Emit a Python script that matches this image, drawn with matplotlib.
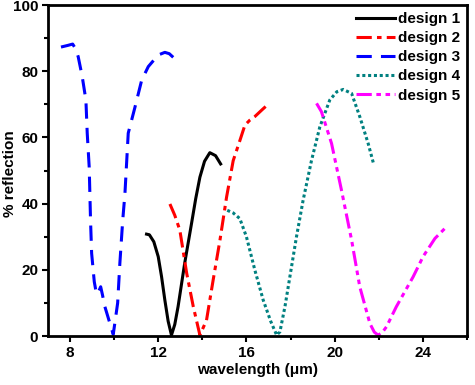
import matplotlib.pyplot as plt
from matplotlib.ticker import MultipleLocator

plt.rcParams['font.family'] = ['Liberation Sans', 'DejaVu Sans']
plt.rcParams['font.weight'] = 'bold'

# design 1
x1 = [11.47, 11.6, 11.8, 12.0, 12.15, 12.3, 12.45, 12.6, 12.75, 12.9, 13.2, 13.51, 13.7, 13.89, 14.1, 14.34, 14.6, 14.83]
y1 = [30.8, 30.6, 28.5, 24.0, 18.0, 10.9, 4.5, 0.3, 3.5, 8.9, 22.0, 34.0, 41.5, 48.0, 52.8, 55.4, 54.5, 52.0]

# design 2
x2 = [12.53, 12.75, 12.98, 13.29, 13.59, 13.89, 14.19, 14.49, 14.8, 15.1, 15.4, 15.7, 15.93, 16.15, 16.38, 16.7, 17.03]
y2 = [39.9, 36.5, 32.0, 19.0, 8.9, 0.3, 4.8, 16.9, 29.0, 42.0, 53.0, 59.0, 63.7, 65.2, 66.3, 68.3, 70.3]

# design 3
x3 = [7.59, 7.9, 8.12, 8.25, 8.37, 8.55, 8.72, 8.78, 8.87, 8.93, 8.98, 9.1, 9.2, 9.3, 9.39, 9.47, 9.58, 9.96,
      10.16, 10.26, 10.39, 10.49, 10.64, 10.94, 11.25, 11.55, 12.0, 12.3, 12.5, 12.68]
y3 = [87.3, 87.8, 88.2, 86.8, 84.4, 78.5, 71.3, 61.3, 51.0, 35.0, 25.0, 16.4, 12.7, 13.5, 14.9, 12.5, 8.9, 0.5,
      10.0, 22.0, 35.0, 43.0, 61.3, 69.0, 77.3, 81.4, 84.9, 85.7, 85.3, 84.2]

# design 4
x4 = [15.13, 15.4, 15.7, 16.0, 16.38, 16.76, 17.1, 17.37, 17.52, 17.75, 17.97, 18.27, 18.57, 18.95,
      19.33, 19.78, 20.1, 20.39, 20.77, 21.14, 21.52, 21.78]
y4 = [38.0, 37.2, 35.5, 30.0, 20.0, 10.9, 4.5, 0.3, 1.3, 9.0, 17.9, 30.0, 41.0, 53.0,
      63.2, 71.3, 73.8, 74.5, 73.3, 66.3, 58.2, 51.7]

# design 5
x5 = [19.18, 19.4, 19.86, 20.31, 20.77, 21.14, 21.6, 21.8, 21.97, 22.15, 22.35, 22.8, 23.56, 24.01, 24.55, 25.07]
y5 = [70.3, 67.8, 58.2, 44.1, 29.0, 14.9, 3.8, 1.2, 0.3, 1.0, 2.8, 8.9, 17.9, 24.0, 29.5, 33.0]

fig = plt.figure(figsize=(4.75, 3.85), dpi=100)
ax = fig.add_axes([0.101, 0.127, 0.882, 0.86])

ax.plot(x1, y1, color='black', lw=2.2, ls='-', label='design 1')
ax.plot(x2, y2, color='red', lw=2.2, ls=(0, (5, 1.7, 1.5, 1.7)), label='design 2')
ax.plot(x3, y3, color='#0000ff', lw=2.2, ls=(0, (5, 3)), label='design 3')
ax.plot(x4, y4, color='#008080', lw=2.2, ls=(0, (1, 0.9)), label='design 4')
ax.plot(x5, y5, color='#ff00ff', lw=2.2, ls=(0, (5, 1.5, 1.5, 1.5, 1.5, 1.5)), label='design 5')

ax.set_xlim(7, 26)
ax.set_ylim(0, 100)
ax.set_xticks([8, 12, 16, 20, 24])
ax.xaxis.set_minor_locator(MultipleLocator(2))
ax.yaxis.set_major_locator(MultipleLocator(20))
ax.yaxis.set_minor_locator(MultipleLocator(10))
ax.tick_params(which='major', length=4, width=1.5, labelsize=11, direction='out', pad=3)
ax.tick_params(which='minor', length=3, width=1.5, direction='out')
for s in ax.spines.values():
    s.set_linewidth(2)

ax.set_xlabel('wavelength (\u03bcm)', fontsize=11, fontweight='bold', labelpad=2)
ax.set_ylabel('% reflection', fontsize=11, fontweight='bold')
ax.yaxis.set_label_coords(-0.075, 0.49)

ax.legend(loc='upper right', frameon=False, handlelength=2.55,
          handletextpad=0.2, labelspacing=0.34, borderaxespad=0.1, borderpad=0.35,
          prop={'weight': 'bold', 'size': 11})

fig.savefig('out.png', dpi=100)
